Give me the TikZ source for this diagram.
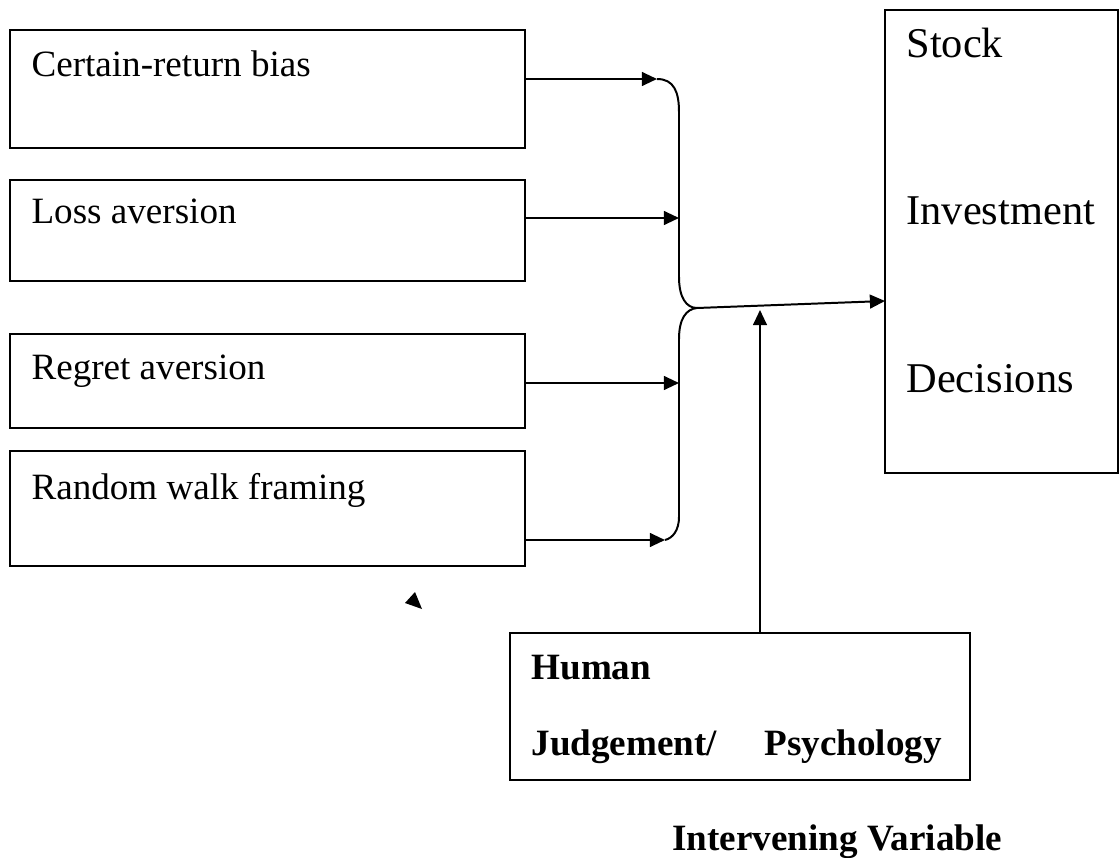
\documentclass[tikz,border=0pt]{standalone}
\usepackage{fontspec}
\setmainfont{Liberation Serif}
\usetikzlibrary{arrows.meta}
\begin{document}
\begin{tikzpicture}
          [x=0.01326cm, y=-0.01326cm,
          factor/.style={shape=rectangle, draw=black, line width=0.75pt, inner sep=0pt, minimum width=6.829cm},
          outcome/.style={shape=rectangle, draw=black, line width=0.75pt, inner sep=0pt, minimum width=3.090cm, minimum height=6.139cm},
          mediator/.style={shape=rectangle, draw=black, line width=0.75pt, inner sep=0pt, minimum width=6.100cm, minimum height=1.949cm},
          lbl/.style={anchor=base west, inner sep=0pt, font=\fontsize{14}{17}\selectfont},
          biglbl/.style={anchor=base west, inner sep=0pt, font=\fontsize{16}{19}\selectfont},
          boldlbl/.style={anchor=base west, inner sep=0pt, font=\fontsize{14}{17}\selectfont\bfseries},
          arc/.style={-{Triangle[length=5.7pt,width=5.2pt]}, line width=0.75pt},
          joinline/.style={line width=0.75pt}]

            \useasboundingbox (0,0) rectangle (1120,858);

            \node (b1) [factor, minimum height=1.571cm] at (267.5,88.75) {};
            \node (b2) [factor, minimum height=1.339cm] at (267.5,230.5) {};
            \node (b3) [factor, minimum height=1.246cm] at (267.5,381) {};
            \node (b4) [factor, minimum height=1.525cm] at (267.5,508.5) {};
            \node (sid) [outcome] at (1001.5,241.5) {};
            \node (hjp) [mediator] at (740,706.5) {};

            \node (t1) [lbl] at (31,77) {Certain-return bias};
            \node (t2) [lbl] at (31,224) {Loss aversion};
            \node (t3) [lbl] at (31,380) {Regret aversion};
            \node (t4) [lbl] at (31,500) {Random walk framing};
            \node (s1) [biglbl] at (906,58) {Stock};
            \node (s2) [biglbl] at (906,225) {Investment};
            \node (s3) [biglbl] at (906,392) {Decisions};
            \node (h1) [boldlbl] at (531,679) {Human};
            \node (h2) [boldlbl] at (531,755) {Judgement/};
            \node (h3) [boldlbl] at (764,755) {Psychology};
            \node (iv) [boldlbl] at (672,850) {Intervening Variable};

            \coordinate (e1) at (657,79);
            \coordinate (e2) at (679,218);
            \coordinate (e3) at (679,383);
            \coordinate (e4) at (665,540);
            \coordinate (m) at (697,308);
            \coordinate (d) at (885,301);
            \coordinate (v) at (760,310);

          \draw [arc] (b1.east |- e1) -- (e1);
          \draw [arc] (b2.east |- e2) -- (e2);
          \draw [arc] (b3.east |- e3) -- (e3);
          \draw [arc] (b4.east |- e4) -- (e4);
          \draw [joinline] (e1) .. controls (674,79) and (679,92) .. (679,112) -- (679,277) .. controls (679,297) and (686,308) .. (m);
          \draw [joinline] (m) .. controls (686,309) and (679,319) .. (679,339) -- (679,517) .. controls (679,530) and (673,538) .. (e4);
          \draw [arc] (m) -- (d);
          \draw [arc] (hjp.north -| v) -- (v);
          \fill (405,603) -- (415,592) -- (422,609) -- cycle;

        \end{tikzpicture}
\end{document}
